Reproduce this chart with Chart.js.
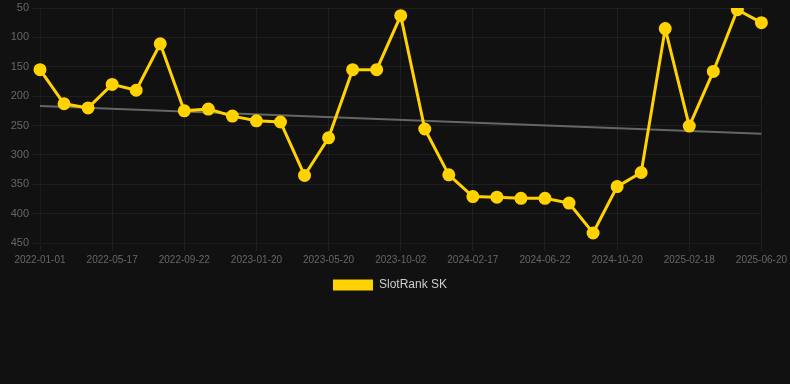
<!DOCTYPE html>
<html><head><meta charset="utf-8">
<script src="https://cdn.jsdelivr.net/npm/chart.js@4/dist/chart.umd.min.js"></script>
<style>
html,body{margin:0;padding:0;background:#111111;}
#wrap{position:relative;width:790px;height:301px;}
</style></head><body>
<div id="wrap"><canvas id="c"></canvas></div>
<script>
const dates = ["2022-01-01","2022-02-14","2022-03-31","2022-05-17","2022-06-30","2022-08-08","2022-09-22","2022-11-05","2022-12-08","2023-01-20","2023-02-28","2023-04-10","2023-05-20","2023-07-01","2023-08-15","2023-10-02","2023-11-15","2024-01-01","2024-02-17","2024-03-30","2024-05-10","2024-06-22","2024-08-05","2024-09-15","2024-10-20","2024-11-30","2025-01-08","2025-02-18","2025-03-30","2025-05-10","2025-06-20"];
const rankSK = [155,213,220,180,190,111,225,222,234,242,244,335,271,155,155,63,256,334,371,372,374,374,382,433,354,330,85,251,158,53,75];
const trendStart = 217;
const trendEnd = 264;
const yTicks = [50,100,150,200,250,300,350,400,450];

const trend = dates.map((d,i)=> i===0 ? trendStart : (i===dates.length-1 ? trendEnd : null));

new Chart(document.getElementById('c'), {
  type: 'line',
  data: {
    labels: dates,
    datasets: [
      {label:'SlotRank SK', data: rankSK, borderColor:'#FFD200', backgroundColor:'#FFD200', borderWidth:3, pointRadius:5, pointHoverRadius:5, tension:0},
      {label:'trend', data: trend, borderColor:'#666666', backgroundColor:'#666666', borderWidth:2, pointRadius:0, spanGaps:true}
    ]
  },
  options: {
    responsive:true, maintainAspectRatio:false, animation:false,
    layout:{padding:{right:10, top:-2}},
    plugins:{
      legend:{position:'bottom', labels:{color:'#cccccc', font:{family:'Liberation Sans, Arial', size:12}, boxWidth:40, boxHeight:11,
        generateLabels:(chart)=>[{text:'SlotRank SK', fillStyle:'#FFD200', strokeStyle:'#FFD200', lineWidth:0, datasetIndex:0, hidden:false, fontColor:'#cccccc'}]}},
      tooltip:{enabled:false}
    },
    scales:{
      x:{
        grid:{color:'rgba(255,255,255,0.06)'},
        ticks:{color:'#666666', font:{family:'Liberation Sans, Arial', size:10}, autoSkip:false, maxRotation:0,
          callback:function(v,i){return i%3===0 ? dates[i] : null;}}
      },
      y:{
        reverse:true, min:50, max:450,
        grid:{color:'rgba(255,255,255,0.06)'},
        afterFit:(ax)=>{ax.width = 40; ax.paddingTop = 0;},
        afterBuildTicks:(ax)=>{ax.ticks = yTicks.map(v=>({value:v}));},
        ticks:{color:'#666666', font:{family:'Liberation Sans, Arial', size:11}}
      }
    }
  }
});
</script>
</body></html>
